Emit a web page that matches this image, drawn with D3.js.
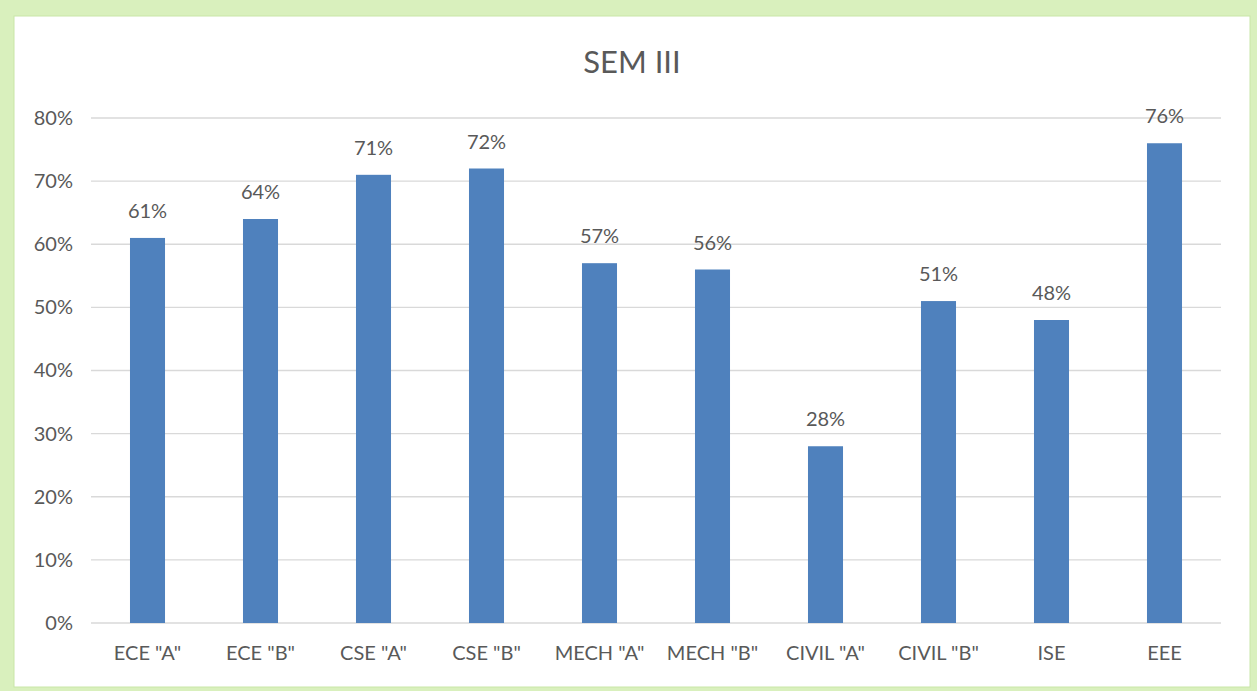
<!DOCTYPE html>
<html>
<head>
<meta charset="utf-8">
<script src="https://cdn.jsdelivr.net/npm/d3@7"></script>
<style>
  body { margin: 0; background: #d9f0bd; }
  text { font-family: Lato, "Open Sans", sans-serif; fill: #595959; }
</style>
</head>
<body>
<div id="chart"></div>
<script>
// chart data
const categories = ['ECE "A"', 'ECE "B"', 'CSE "A"', 'CSE "B"', 'MECH "A"', 'MECH "B"', 'CIVIL "A"', 'CIVIL "B"', 'ISE', 'EEE'];
const values = [61, 64, 71, 72, 57, 56, 28, 51, 48, 76];
const yTicks = [0, 10, 20, 30, 40, 50, 60, 70, 80];
const title = "SEM III";

const W = 1257, H = 691;
const plot = { left: 91, right: 1221, top: 118, bottom: 623 };

var svg = d3.select('#chart')
  .append('svg')
  .attr('width', W)
  .attr('height', H);

// green frame + white panel
svg.append('rect')
  .attr('x', 0).attr('y', 0).attr('width', W).attr('height', H)
  .attr('fill', '#d9f0bd');
svg.append('rect')
  .attr('x', 14).attr('y', 16).attr('width', 1236).attr('height', 671)
  .attr('fill', '#ffffff')
  .attr('stroke', '#c9e6a8')
  .attr('stroke-width', 1);

// scales
const x = d3.scaleBand()
  .domain(categories)
  .range([plot.left, plot.right])
  .paddingInner(0.69)
  .paddingOuter(0.345);

const y = d3.scaleLinear()
  .domain([0, 80])
  .range([plot.bottom, plot.top]);

// gridlines
svg.append('g')
  .selectAll('line')
  .data(yTicks)
  .join('line')
  .attr('x1', plot.left)
  .attr('x2', plot.right)
  .attr('y1', d => y(d))
  .attr('y2', d => y(d))
  .attr('stroke', '#d9d9d9')
  .attr('stroke-width', 1.3);

// y axis labels
const yAxis = svg.append('g')
  .attr('transform', `translate(${plot.left - 15}, 0)`)
  .call(d3.axisLeft(y).tickValues(yTicks).tickSize(0).tickFormat(d => d + '%'));
yAxis.select('.domain').remove();
yAxis.selectAll('.tick > text')
  .style('font-size', '20px')
  .style('fill', '#595959');

// x axis labels
const xAxis = svg.append('g')
  .attr('transform', `translate(0, ${plot.bottom + 20})`)
  .call(d3.axisBottom(x).tickSize(0));
xAxis.select('.domain').remove();
xAxis.selectAll('.tick > text')
  .style('font-size', '20px')
  .style('fill', '#595959');

// bars
svg.append('g')
  .selectAll('rect')
  .data(values)
  .join('rect')
  .attr('x', (d, i) => x(categories[i]))
  .attr('y', d => y(d))
  .attr('width', x.bandwidth())
  .attr('height', d => plot.bottom - y(d))
  .attr('fill', '#4f81bd');

// value labels
svg.append('g')
  .selectAll('text')
  .data(values)
  .join('text')
  .attr('x', (d, i) => x(categories[i]) + x.bandwidth() / 2)
  .attr('y', d => y(d) - 20)
  .attr('text-anchor', 'middle')
  .style('font-size', '20px')
  .text(d => d + '%');

// title
svg.append('text')
  .attr('x', 632)
  .attr('y', 73)
  .attr('text-anchor', 'middle')
  .style('font-size', '31px')
  .text(title);
</script>
</body>
</html>
